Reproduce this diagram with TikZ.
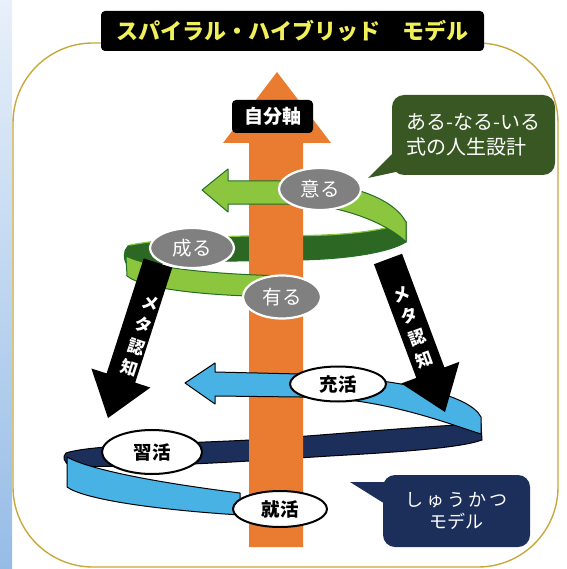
\documentclass[tikz,border=0pt]{standalone}
\usepackage{fontspec}
\setmainfont{Noto Sans CJK JP}
\usetikzlibrary{calc,shapes.geometric}
\definecolor{gold}{RGB}{200,168,60}
\definecolor{axisorange}{RGB}{233,124,48}
\definecolor{lgreen}{RGB}{140,198,63}
\definecolor{dgreen}{RGB}{44,104,36}
\definecolor{lineGreen}{RGB}{36,110,36}
\definecolor{calloutgreen}{RGB}{56,87,35}
\definecolor{lblue}{RGB}{72,178,228}
\definecolor{navy}{RGB}{28,46,90}
\definecolor{titleyellow}{RGB}{240,240,90}
\definecolor{ellgray}{RGB}{128,128,128}
\definecolor{stripA}{RGB}{232,240,250}
\definecolor{stripB}{RGB}{150,188,230}
\begin{document}
\begin{tikzpicture}[x=1pt,y=-1pt,
  grayell/.style={ellipse, fill=ellgray, draw=white, line width=2.2pt, text=white, font=\fontsize{19.5}{19.5}\selectfont, inner sep=0pt, minimum width=#1},
  whiteell/.style={ellipse, fill=white, draw=black, line width=2pt, text=black, font=\fontsize{18.5}{18.5}\selectfont\bfseries, inner sep=0pt, minimum width=#1},
  metatext/.style={text=white, font=\fontsize{17}{23}\selectfont\bfseries, align=center, inner sep=0pt},
  greenband/.style={fill=lgreen, draw=lineGreen, line width=1pt, line join=round},
  blueband/.style={fill=lblue, draw=black, line width=1pt, line join=round},
]
\useasboundingbox (0,0) rectangle (566,569);
% background strip
\shade[top color=stripA, bottom color=stripB] (0,0) rectangle (12,569);
% frame
\draw[gold, line width=1.4pt, rounded corners=80pt] (13,43) rectangle (558,567);
% title
\node[fill=black, rounded corners=4pt, minimum width=383pt, minimum height=40pt, inner sep=0pt,
      text=titleyellow, font=\fontsize{22}{22}\selectfont\bfseries] (title) at (292.5,31) {スパイラル・ハイブリッド\hspace{1em}モデル};

% back bands
\draw[fill=dgreen, draw=lineGreen, line width=1pt] (128,246) .. controls (170,238) and (230,236) .. (300,236)
  .. controls (350,236) and (390,230) .. (406,222) -- (406,242)
  .. controls (390,252) and (350,259) .. (300,260) .. controls (230,261) and (160,262) .. (128,266)
  .. controls (123,260) and (123,251) .. (128,246) -- cycle;
\draw[lgreen, line width=1.2pt] (130,245) .. controls (170,237.5) and (230,235.5) .. (300,235.5)
  .. controls (350,235.5) and (390,229.5) .. (405,221.5);
\draw[fill=navy, draw=black, line width=1pt] (481,424) .. controls (420,426) and (330,435) .. (250,440)
  .. controls (170,444) and (90,445) .. (66,453) .. controls (62,457) and (64,462) .. (70,466)
  .. controls (150,468) and (250,461) .. (330,456) .. controls (400,452) and (460,448) .. (482,440) -- cycle;

% orange axis arrow
\fill[axisorange] (249,547) -- (249,143) -- (223,143) -- (277,72) -- (331,143) -- (303,143) -- (303,547) -- cycle;

% front bands green
\draw[greenband] (126,256) .. controls (150,268) and (210,274) .. (285,276) -- (285,297)
  .. controls (210,296) and (145,290) .. (127,276) -- cycle;
\draw[greenband] (202,190) -- (228,169) -- (228,181) -- (300,181)
  .. controls (345,183) and (392,196) .. (406,222) -- (406,242)
  .. controls (392,228) and (360,212) .. (320,206) -- (300,204) -- (228,204) -- (228,212) -- cycle;

% front bands blue
\draw[blueband] (67,457) .. controls (90,470) and (160,483) .. (240,493) -- (240,515)
  .. controls (160,510) and (85,500) .. (67,487) -- cycle;
\draw[blueband] (185,383) -- (215,363) -- (215,372) -- (300,374)
  .. controls (400,378) and (470,395) .. (481,417) -- (481,434)
  .. controls (450,424) and (400,405) .. (340,399) -- (300,397) -- (215,396) -- (215,404) -- cycle;

% meta-cognition arrows
\coordinate (LT) at (158,263);
\coordinate (LP) at (108,418);
\coordinate (LB) at ($(LP)!42pt!(LT)$);
\fill[black] ($(LT)!15pt!90:(LP)$) -- ($(LB)!15pt!90:(LP)$) -- ($(LB)!31pt!90:(LP)$) -- (LP)
  -- ($(LB)!31pt!-90:(LP)$) -- ($(LB)!15pt!-90:(LP)$) -- ($(LT)!15pt!-90:(LP)$) -- cycle;
\node[metatext, rotate=-18] (metaL) at (140,336) {メ\\タ\\認\\知};
\coordinate (RT) at (388,259);
\coordinate (RP) at (445,412);
\coordinate (RB) at ($(RP)!42pt!(RT)$);
\fill[black] ($(RT)!15pt!90:(RP)$) -- ($(RB)!15pt!90:(RP)$) -- ($(RB)!31pt!90:(RP)$) -- (RP)
  -- ($(RB)!31pt!-90:(RP)$) -- ($(RB)!15pt!-90:(RP)$) -- ($(RT)!15pt!-90:(RP)$) -- cycle;
\node[metatext, rotate=20] (metaR) at (413,327) {メ\\タ\\認\\知};

% ellipse labels
\node[grayell=82pt, minimum height=42pt] (iru) at (320,189) {意る};
\node[grayell=84pt, minimum height=40pt] (naru) at (192,248) {成る};
\node[grayell=78pt, minimum height=43pt] (aru) at (282,297) {有る};
\node[whiteell=96pt, minimum height=35pt] (juukatsu) at (338,384) {充活};
\node[whiteell=100pt, minimum height=44pt] (shuukatsu2) at (152,452) {習活};
\node[whiteell=94pt, minimum height=36pt] (shuukatsu) at (280,509) {就活};

% self-axis label
\node[fill=black, rounded corners=4pt, minimum width=81pt, minimum height=33pt, inner sep=0pt,
      text=white, font=\fontsize{19}{19}\selectfont\bfseries] (jibun) at (272.5,116.5) {自分軸};

% green callout
\fill[calloutgreen] (400,146) -- (368,178) -- (405,170) -- cycle;
\node[fill=calloutgreen, rounded corners=12pt, minimum width=163pt, minimum height=80pt, inner sep=0pt,
      text=white, font=\fontsize{20}{25}\selectfont, align=left] (callA) at (473.5,135) {ある-なる-いる\\式の人生設計};

% navy callout
\fill[navy] (390,482) -- (350,482) -- (390,507) -- cycle;
\node[fill=navy, rounded corners=12pt, minimum width=147pt, minimum height=72pt, inner sep=0pt,
      text=white, font=\fontsize{18}{22}\selectfont, align=center] (callB) at (456.5,511) {し\,ゅ\,う\,か\,つ\\モデル};
\end{tikzpicture}
\end{document}
